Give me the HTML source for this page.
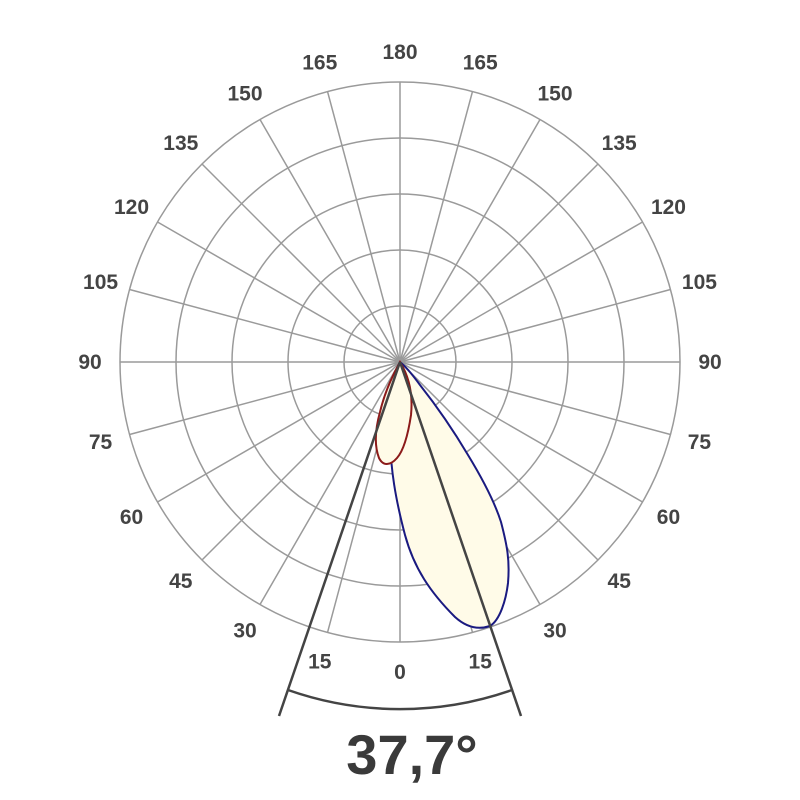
<!DOCTYPE html>
<html><head><meta charset="utf-8"><style>body{margin:0;background:#fff}svg{display:block}</style></head><body>
<svg id="s" width="800" height="800" viewBox="0 0 800 800" xmlns="http://www.w3.org/2000/svg">
<g id="grid" stroke="#9a9a9a" stroke-width="1.5" fill="none">
<circle cx="400" cy="362" r="56"/><circle cx="400" cy="362" r="112"/><circle cx="400" cy="362" r="168"/><circle cx="400" cy="362" r="224"/><circle cx="400" cy="362" r="280"/>
</g>
<path d="M400,362 C392,375 389,397 390,440 C391,470 395,497 405,535 C414,568 430,592 455,617 C466,627 478,630 490,626 C500,620 506,600 508,583 C510,560 507,545 501,522 C494,500 482,478 468,455 C452,428 435,404 420,385 C412,374 405,366 400,362 Z" fill="#fffbe8" stroke="#1a1a80" stroke-width="2"/>
<path d="M400,362 C390,380 384,395 380,412 C375,430 374,445 379,458 C383,466 390,466 397,458 C404,450 408,435 411,415 C413,395 410,378 400,362 Z" fill="#fffbe8" stroke="#8b1a1a" stroke-width="2"/>
<g stroke="#444" stroke-width="2.5" fill="none">
<line x1="400" y1="362" x2="279" y2="716"/><line x1="400" y1="362" x2="521" y2="716"/>
<path d="M288,690 A338,338 0 0 0 512,690"/>
</g>
<text x="412" y="774" text-anchor="middle" font-family="Liberation Sans, sans-serif" font-weight="bold" font-size="56" fill="#3a3a3a">37,7°</text>
<g id="lab" font-family="Liberation Sans, sans-serif" font-weight="bold" font-size="21" fill="#444" text-anchor="middle"></g>
</svg>
<script>
var g=document.getElementById('grid'),l=document.getElementById('lab'),ns='http://www.w3.org/2000/svg';
for(var a=0;a<360;a+=15){var t=a*Math.PI/180;var ln=document.createElementNS(ns,'line');ln.setAttribute('x1',400);ln.setAttribute('y1',362);ln.setAttribute('x2',400+280*Math.sin(t));ln.setAttribute('y2',362+280*Math.cos(t));g.appendChild(ln);
var v=a<=180?a:360-a;var tx=document.createElementNS(ns,'text');tx.setAttribute('x',400+310*Math.sin(t));tx.setAttribute('y',362+310*Math.cos(t)+7);tx.textContent=v;l.appendChild(tx);}
</script>
</body></html>
